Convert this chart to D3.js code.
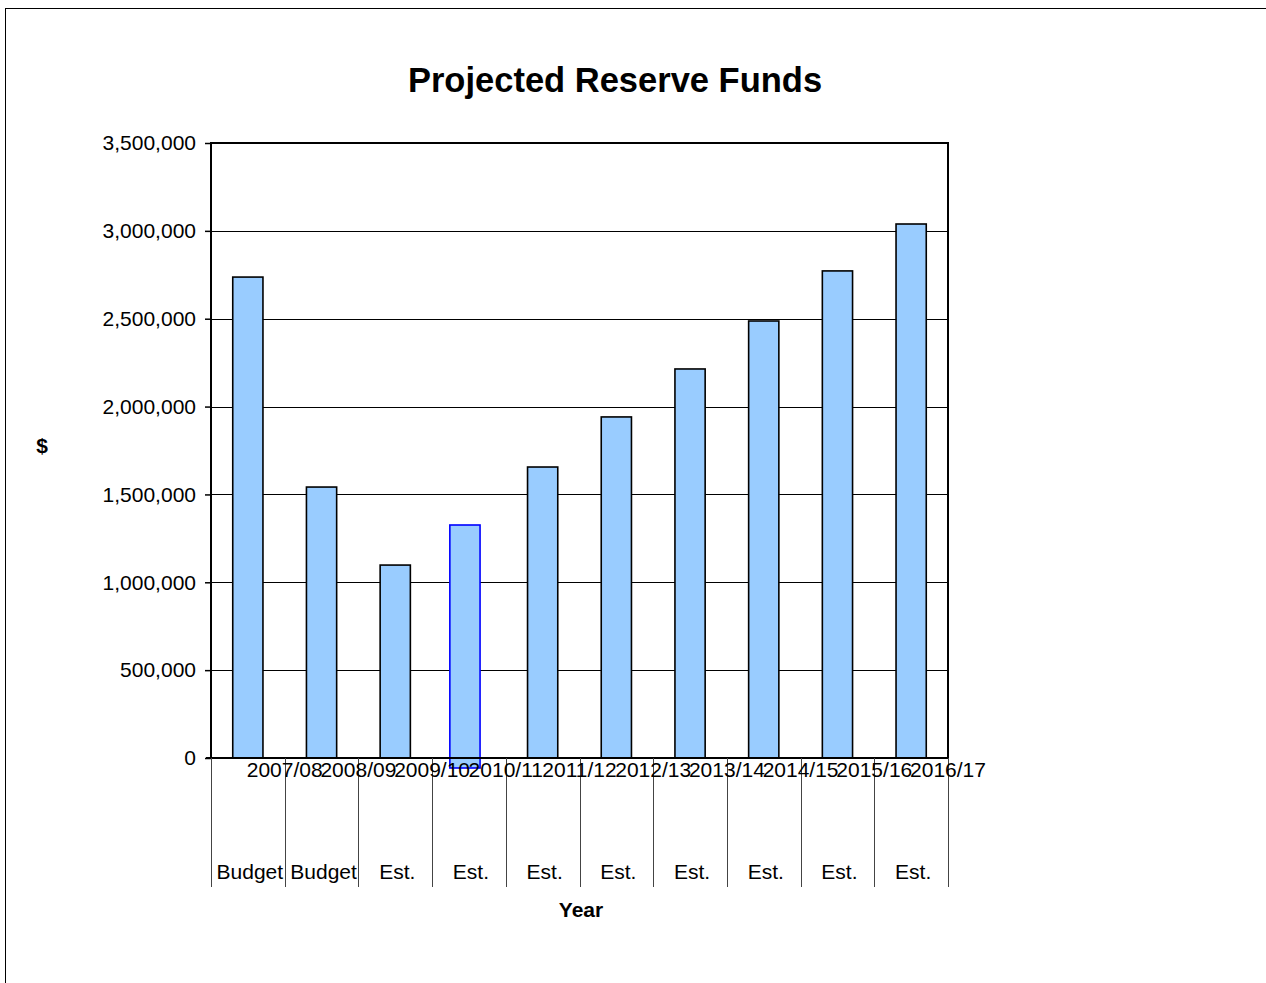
<!DOCTYPE html>
<html>
<head>
<meta charset="utf-8">
<script src="https://cdn.jsdelivr.net/npm/d3@7"></script>
<style>
  html, body { margin: 0; padding: 0; background: #fff; }
  svg { display: block; font-family: Arial, "Liberation Sans", sans-serif; }
</style>
</head>
<body>
<svg id="chart" width="1266" height="983"></svg>
<script>
// Fiscal years and their budget / estimate tags
const years = ["2007/08", "2008/09", "2009/10", "2010/11", "2011/12", "2012/13", "2013/14", "2014/15", "2015/16", "2016/17"];
const yearTags = ["Budget", "Budget", "Est.", "Est.", "Est.", "Est.", "Est.", "Est.", "Est.", "Est."];
// Projected reserve fund balance ($)
const reserves = [2737000, 1542000, 1098000, 1326000, 1656000, 1941000, 2214000, 2487000, 2772000, 3039000];
const yTicks = [0, 500000, 1000000, 1500000, 2000000, 2500000, 3000000, 3500000];

const svg = d3.select("#chart");
const plot = { left: 211, right: 948, top: 143, bottom: 758 };
const FS = 21;

// outer chart frame
svg.append("rect")
  .attr("x", 5.5).attr("y", 8.5)
  .attr("width", 1300).attr("height", 1000)
  .attr("fill", "none").attr("stroke", "#000").attr("stroke-width", 1);

const y = d3.scaleLinear().domain([0, 3500000]).range([plot.bottom, plot.top]);
const cell = d3.scaleBand().domain(years).range([plot.left, plot.right]);
const x = d3.scaleBand().domain(years).range([plot.left, plot.right])
  .paddingInner(0.59).paddingOuter(0.295);

// title
svg.append("text")
  .attr("x", 615).attr("y", 92)
  .attr("text-anchor", "middle")
  .attr("font-size", 34.5).attr("font-weight", "bold")
  .text("Projected Reserve Funds");

// gridlines
svg.append("g").selectAll("line")
  .data(yTicks.filter(t => t > 0 && t < 3500000))
  .join("line")
  .attr("x1", plot.left).attr("x2", plot.right)
  .attr("y1", d => Math.round(y(d)) + 0.5).attr("y2", d => Math.round(y(d)) + 0.5)
  .attr("stroke", "#000").attr("stroke-width", 1);

// y axis
const yAxis = d3.axisLeft(y)
  .tickValues(yTicks)
  .tickFormat(d3.format(","))
  .tickSize(6).tickPadding(9);
const gy = svg.append("g")
  .attr("transform", `translate(${plot.left},0)`)
  .call(yAxis);
gy.select(".domain").remove();
gy.selectAll(".tick line").attr("stroke", "#000").attr("stroke-width", 1.5);
gy.selectAll(".tick text")
  .attr("font-size", FS).attr("fill", "#000")
  .attr("font-family", "Arial, 'Liberation Sans', sans-serif");

// bars; the selected year (2010/11 estimate) is drawn with its selection outline
const selected = years[3];
svg.append("g").selectAll("rect")
  .data(years.map((yr, i) => ({ yr, v: reserves[i] })))
  .join("rect")
  .attr("x", d => x(d.yr) - (d.yr === selected ? 4 : 0))
  .attr("y", d => y(d.v))
  .attr("width", x.bandwidth())
  .attr("height", d => y(0) - y(d.v) + (d.yr === selected ? 10 : 0))
  .attr("fill", "#99CCFF")
  .attr("stroke", d => d.yr === selected ? "#0000FF" : "#000")
  .attr("stroke-width", 1.6);

// plot frame (top, right, left) and zero baseline
svg.append("path")
  .attr("d", `M${plot.left},${plot.bottom} V${plot.top} H${plot.right} V${plot.bottom}`)
  .attr("fill", "none").attr("stroke", "#000").attr("stroke-width", 2);
svg.append("line")
  .attr("x1", plot.left - 5).attr("x2", plot.right)
  .attr("y1", plot.bottom).attr("y2", plot.bottom)
  .attr("stroke", "#000").attr("stroke-width", 2);

// category dividers for the two-level axis
const dividers = [...years.map(yr => cell(yr)), plot.right];
svg.append("g").selectAll("line")
  .data(dividers)
  .join("line")
  .attr("x1", d => Math.round(d) + 0.5).attr("x2", d => Math.round(d) + 0.5)
  .attr("y1", plot.bottom).attr("y2", 887)
  .attr("stroke", "#444").attr("stroke-width", 1);

// year labels
svg.append("g").selectAll("text")
  .data(years)
  .join("text")
  .attr("x", d => cell(d) + cell.bandwidth())
  .attr("y", 777)
  .attr("text-anchor", "middle")
  .attr("font-size", FS)
  .text(d => d);

// budget / estimate labels
svg.append("g").selectAll("text")
  .data(years.map((yr, i) => ({ yr, tag: yearTags[i] })))
  .join("text")
  .attr("x", d => cell(d.yr) + cell.bandwidth() / 2 + 2)
  .attr("y", 879)
  .attr("text-anchor", "middle")
  .attr("font-size", FS)
  .text(d => d.tag);

// axis titles
svg.append("text")
  .attr("x", 581).attr("y", 917)
  .attr("text-anchor", "middle")
  .attr("font-size", FS).attr("font-weight", "bold")
  .text("Year");
svg.append("text")
  .attr("x", 42).attr("y", 453)
  .attr("text-anchor", "middle")
  .attr("font-size", FS).attr("font-weight", "bold")
  .text("$");
</script>
</body>
</html>
